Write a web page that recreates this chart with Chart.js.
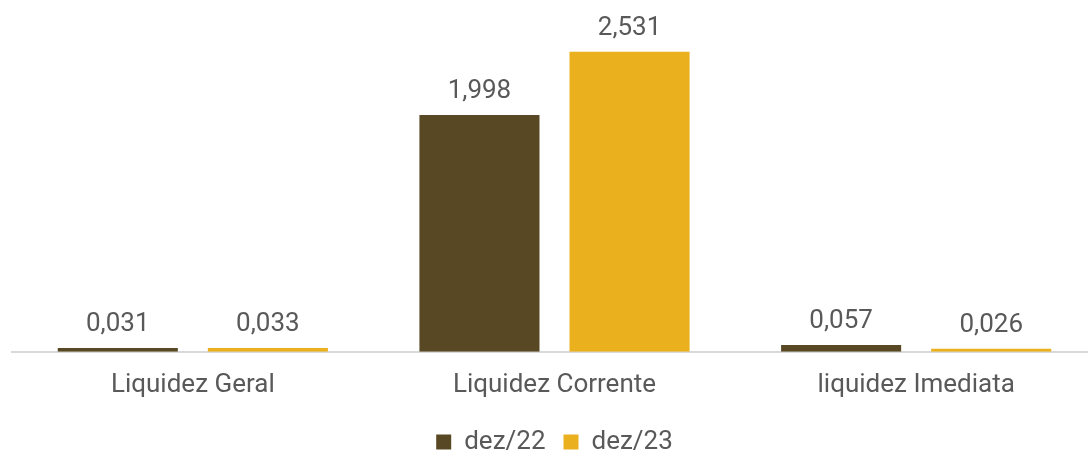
<!DOCTYPE html>
<html>
<head>
<meta charset="utf-8">
<script src="https://cdn.jsdelivr.net/npm/chart.js@4"></script>
<style>
    html, body { margin: 0; padding: 0; background: #ffffff; overflow: hidden; }
    .wrap { position: relative; width: 1110px; height: 465px; }
</style>
</head>
<body>
<div class="wrap"><canvas id="liquidez-chart"></canvas></div>
<script>
const categories = ['Liquidez Geral', 'Liquidez Corrente', 'liquidez Imediata'];
const seriesNames = ['dez/22', 'dez/23'];
const dez22 = [0.031, 1.998, 0.057];
const dez23 = [0.033, 2.531, 0.026];

const textColor = '#595959';
const fontFamily = 'Roboto, "Noto Sans", sans-serif';

const fmt = (v) => v.toFixed(3).replace('.', ',');

// draws the value above each bar
const valueLabels = {
    id: 'valueLabels',
    afterDatasetsDraw(chart) {
        const ctx = chart.ctx;
        ctx.save();
        ctx.fillStyle = textColor;
        ctx.font = '26px ' + fontFamily;
        ctx.textAlign = 'center';
        ctx.textBaseline = 'alphabetic';
        chart.data.datasets.forEach((ds, i) => {
            chart.getDatasetMeta(i).data.forEach((bar, j) => {
                ctx.fillText(fmt(ds.data[j]), bar.x, bar.y - 17);
            });
        });
        ctx.restore();
    }
};

new Chart(document.getElementById('liquidez-chart'), {
    type: 'bar',
    data: {
        labels: categories,
        datasets: [
            { label: seriesNames[0], data: dez22, backgroundColor: '#584823' },
            { label: seriesNames[1], data: dez23, backgroundColor: '#EBB01E' }
        ]
    },
    options: {
        responsive: true,
        maintainAspectRatio: false,
        animation: false,
        categoryPercentage: 0.83,
        barPercentage: 0.8,
        layout: { padding: { top: 8, left: 12, right: 13, bottom: 0 } },
        plugins: {
            legend: {
                position: 'bottom',
                labels: {
                    color: textColor,
                    font: { size: 26, family: fontFamily },
                    boxWidth: 15,
                    boxHeight: 15,
                    padding: 18
                }
            },
            tooltip: { enabled: false }
        },
        scales: {
            x: {
                grid: { display: false },
                border: { color: '#d9d9d9', width: 2 },
                ticks: { color: textColor, font: { size: 26, family: fontFamily }, padding: 10 }
            },
            y: {
                display: false,
                min: 0,
                max: 2.9
            }
        }
    },
    plugins: [valueLabels]
});
</script>
</body>
</html>
